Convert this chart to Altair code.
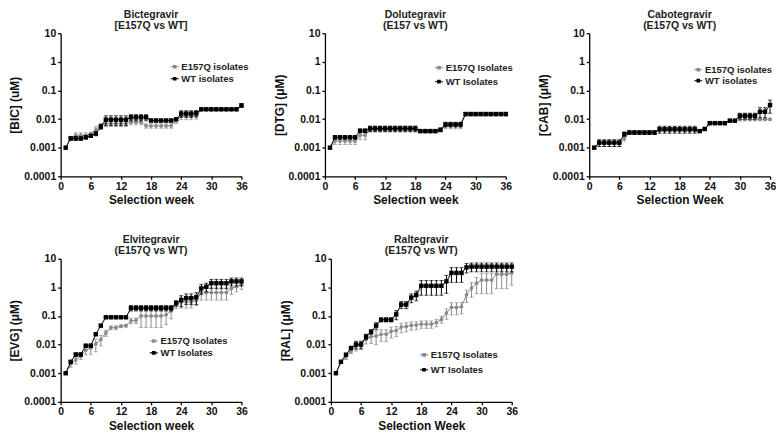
import altair as alt
import pandas as pd

weeks = list(range(1, 37))

# ---- Bictegravir ----
bic_e157q = [0.001, 0.0022, 0.0027, 0.0027, 0.0027, 0.003, 0.0042, 0.006, 0.007, 0.007, 0.007, 0.007, 0.007,
             0.0078, 0.0078, 0.0078, 0.0058, 0.0058, 0.0058, 0.0058, 0.0058, 0.0058, 0.009, 0.0125, 0.0125,
             0.0125, 0.013, 0.021, 0.021, 0.021, 0.021, 0.021, 0.021, 0.021, 0.021, 0.029]
bic_e157q_err = [0, 0.0003, 0.0006, 0.0006, 0.0006, 0.0005, 0.0012, 0.001, 0.0015, 0.0015, 0.0015, 0.0015, 0.0015,
                 0.0015, 0.0015, 0.0015, 0.001, 0.001, 0.001, 0.001, 0.001, 0.001, 0.002, 0.003, 0.003,
                 0.003, 0.003, 0.001, 0.001, 0.001, 0.001, 0.001, 0.001, 0.001, 0.001, 0.003]
bic_wt = [0.001, 0.0021, 0.0021, 0.0021, 0.0023, 0.0026, 0.0031, 0.0054, 0.0095, 0.0095, 0.0095, 0.0095, 0.0095,
          0.0115, 0.0115, 0.0115, 0.0115, 0.0089, 0.0089, 0.0089, 0.0089, 0.0089, 0.0098, 0.0155, 0.0155,
          0.0155, 0.016, 0.022, 0.022, 0.022, 0.022, 0.022, 0.022, 0.022, 0.022, 0.03]
bic_wt_err = [0, 0.0003, 0.0003, 0.0003, 0.0003, 0.0003, 0.0005, 0.001, 0.0035, 0.0035, 0.0035, 0.0035, 0.0035,
              0.0028, 0.0028, 0.0028, 0.0028, 0.001, 0.001, 0.001, 0.001, 0.001, 0.001, 0.004, 0.004,
              0.004, 0.004, 0.002, 0.002, 0.002, 0.002, 0.002, 0.002, 0.002, 0.002, 0.004]

# ---- Dolutegravir ----
dtg_e157q = [0.001, 0.0017, 0.0017, 0.0017, 0.0017, 0.0017, 0.0027, 0.0027, 0.0043, 0.0043, 0.0043, 0.0043,
             0.0043, 0.0043, 0.0043, 0.0043, 0.0043, 0.0043, 0.0037, 0.0037, 0.0037, 0.0037, 0.0043, 0.0058,
             0.0058, 0.0058, 0.0058, 0.015, 0.015, 0.015, 0.015, 0.015, 0.015, 0.015, 0.015, 0.015]
dtg_e157q_err = [0, 0.0004, 0.0004, 0.0004, 0.0004, 0.0004, 0.0008, 0.0008, 0.0008, 0.0008, 0.0008, 0.0008,
                 0.0008, 0.0008, 0.0008, 0.0008, 0.0008, 0.0008, 0.0004, 0.0004, 0.0004, 0.0004, 0.0008, 0.0012,
                 0.0012, 0.0012, 0.0012, 0.0015, 0.0015, 0.0015, 0.0015, 0.0015, 0.0015, 0.0015, 0.0015, 0.0015]
dtg_wt = [0.001, 0.0023, 0.0023, 0.0023, 0.0023, 0.0023, 0.0039, 0.0039, 0.0047, 0.0047, 0.0047, 0.0047,
          0.0047, 0.0047, 0.0047, 0.0047, 0.0047, 0.0047, 0.0038, 0.0038, 0.0038, 0.0038, 0.0042, 0.0065,
          0.0065, 0.0065, 0.0065, 0.015, 0.015, 0.015, 0.015, 0.015, 0.015, 0.015, 0.015, 0.015]
dtg_wt_err = [0, 0.0003, 0.0003, 0.0003, 0.0003, 0.0003, 0.0006, 0.0006, 0.001, 0.001, 0.001, 0.001,
              0.001, 0.001, 0.001, 0.001, 0.001, 0.001, 0.0004, 0.0004, 0.0004, 0.0004, 0.0005, 0.0012,
              0.0012, 0.0012, 0.0012, 0.002, 0.002, 0.002, 0.002, 0.002, 0.002, 0.002, 0.002, 0.002]

# ---- Cabotegravir ----
cab_e157q = [0.001, 0.0014, 0.0014, 0.0014, 0.0014, 0.0014, 0.0021, 0.0033, 0.0033, 0.0033, 0.0033, 0.0033,
             0.0033, 0.0042, 0.0042, 0.0042, 0.0042, 0.0042, 0.0042, 0.0042, 0.0042, 0.0038, 0.0044, 0.007,
             0.007, 0.007, 0.007, 0.0085, 0.0085, 0.0097, 0.0097, 0.0097, 0.0097, 0.0098, 0.0098, 0.0098]
cab_e157q_err = [0, 0.0003, 0.0003, 0.0003, 0.0003, 0.0003, 0.0004, 0.0004, 0.0004, 0.0004, 0.0004, 0.0004,
                 0.0004, 0.0006, 0.0006, 0.0006, 0.0006, 0.0006, 0.0006, 0.0006, 0.0006, 0.0004, 0.0004, 0.0006,
                 0.0006, 0.0006, 0.0006, 0.0008, 0.0008, 0.001, 0.001, 0.001, 0.001, 0.001, 0.001, 0.001]
cab_wt = [0.001, 0.0015, 0.0015, 0.0015, 0.0015, 0.0015, 0.003, 0.0034, 0.0034, 0.0034, 0.0034, 0.0034,
          0.0034, 0.0044, 0.0044, 0.0044, 0.0044, 0.0044, 0.0044, 0.0044, 0.0044, 0.0038, 0.0045, 0.0072,
          0.0072, 0.0072, 0.0072, 0.0088, 0.0088, 0.013, 0.013, 0.013, 0.013, 0.018, 0.018, 0.031]
cab_wt_err = [0, 0.0004, 0.0004, 0.0004, 0.0004, 0.0004, 0.0005, 0.0005, 0.0005, 0.0005, 0.0005, 0.0005,
              0.0005, 0.0012, 0.0012, 0.0012, 0.0012, 0.0012, 0.0012, 0.0012, 0.0012, 0.0004, 0.0004, 0.0008,
              0.0008, 0.0008, 0.0008, 0.001, 0.001, 0.003, 0.003, 0.003, 0.003, 0.007, 0.007, 0.015]

# ---- Elvitegravir ----
evg_e157q = [0.001, 0.0021, 0.0029, 0.004, 0.0064, 0.0076, 0.0106, 0.015, 0.0255, 0.039, 0.039, 0.044,
             0.046, 0.068, 0.07, 0.1, 0.1, 0.1, 0.1, 0.1, 0.11, 0.15, 0.26, 0.31,
             0.31, 0.31, 0.35, 0.66, 0.66, 0.66, 0.66, 0.66, 0.66, 0.92, 1.05, 1.25]
evg_e157q_err = [0, 0.0005, 0.0008, 0.001, 0.002, 0.003, 0.005, 0.006, 0.006, 0.006, 0.006, 0.005,
                 0.005, 0.015, 0.015, 0.06, 0.06, 0.06, 0.06, 0.06, 0.06, 0.07, 0.08, 0.12,
                 0.12, 0.12, 0.12, 0.3, 0.3, 0.3, 0.3, 0.3, 0.3, 0.35, 0.35, 0.4]
evg_wt = [0.001, 0.0025, 0.0045, 0.0045, 0.0091, 0.0091, 0.023, 0.046, 0.09, 0.09, 0.09, 0.09,
          0.09, 0.19, 0.19, 0.19, 0.19, 0.19, 0.19, 0.19, 0.19, 0.19, 0.28, 0.36,
          0.42, 0.42, 0.45, 0.92, 1.05, 1.4, 1.4, 1.4, 1.4, 1.62, 1.62, 1.62]
evg_wt_err = [0, 0.0003, 0.0006, 0.0006, 0.0012, 0.0012, 0.002, 0.004, 0.008, 0.008, 0.008, 0.008,
              0.008, 0.04, 0.04, 0.04, 0.04, 0.04, 0.04, 0.04, 0.04, 0.04, 0.06, 0.15,
              0.17, 0.17, 0.2, 0.35, 0.35, 0.5, 0.5, 0.5, 0.5, 0.5, 0.5, 0.5]

# ---- Raltegravir ----
ral_e157q = [0.001, 0.0025, 0.0037, 0.0059, 0.009, 0.01, 0.0155, 0.019, 0.02, 0.023, 0.023, 0.029,
             0.031, 0.041, 0.043, 0.047, 0.048, 0.052, 0.052, 0.052, 0.059, 0.076, 0.127, 0.2,
             0.2, 0.21, 0.55, 0.95, 1.4, 1.8, 1.8, 1.8, 2.9, 2.9, 2.9, 3.2]
ral_e157q_err = [0, 0.0003, 0.0007, 0.001, 0.003, 0.003, 0.005, 0.008, 0.01, 0.01, 0.01, 0.012,
                 0.012, 0.015, 0.015, 0.015, 0.015, 0.015, 0.015, 0.015, 0.017, 0.02, 0.05, 0.09,
                 0.09, 0.09, 0.25, 0.5, 0.8, 1.2, 1.2, 1.2, 2.0, 2.0, 2.0, 2.0]
ral_wt = [0.001, 0.0025, 0.0044, 0.0076, 0.01, 0.01, 0.019, 0.028, 0.046, 0.074, 0.074, 0.074,
          0.114, 0.25, 0.25, 0.44, 0.54, 1.13, 1.13, 1.13, 1.13, 1.13, 1.62, 3.2,
          3.2, 3.2, 5.0, 5.3, 5.3, 5.3, 5.3, 5.3, 5.3, 5.3, 5.3, 5.3]
ral_wt_err = [0, 0.0003, 0.0006, 0.001, 0.003, 0.003, 0.004, 0.005, 0.012, 0.012, 0.012, 0.012,
              0.04, 0.07, 0.07, 0.15, 0.2, 0.6, 0.6, 0.6, 0.6, 0.6, 1.0, 1.7,
              1.7, 1.7, 1.8, 1.8, 1.8, 1.8, 1.8, 1.8, 1.8, 1.8, 1.8, 1.8]

x_ticks = [0, 6, 12, 18, 24, 30, 36]
y_ticks = [0.0001, 0.001, 0.01, 0.1, 1, 10]

FONT = "Liberation Sans"
GREY = "#8a8a8a"
BLACK = "#000000"
W = 182
H = 144
LEGEND_SYMBOL = "M-1,-0.13H1V0.13H-1Z M-0.45,-0.45H0.45V0.45H-0.45Z"


def panel(title, ytitle, xtitle, e_lab, w_lab, e_vals, e_err, w_vals, w_err, lx, ly, row_pad):
    rows = []
    for lab, vals, errs in ((e_lab, e_vals, e_err), (w_lab, w_vals, w_err)):
        for wk, v, e in zip(weeks, vals, errs):
            rows.append({"week": wk, "value": v, "lo": v - e, "hi": v + e, "series": lab})
    df = pd.DataFrame(rows)
    cscale = alt.Scale(domain=[e_lab, w_lab], range=[GREY, BLACK])
    leg = alt.Legend(orient="none", legendX=lx, legendY=ly, title=None,
                     symbolType=LEGEND_SYMBOL, symbolSize=64, symbolStrokeWidth=0,
                     labelFont=FONT, labelFontWeight="bold", labelFontSize=9.5,
                     labelColor="#222222", labelOffset=2, rowPadding=row_pad)
    color = alt.Color("series:N", scale=cscale, legend=leg)
    xenc = alt.X("week:Q", scale=alt.Scale(domain=[0, 36], nice=False),
                 axis=alt.Axis(values=x_ticks, title=xtitle))
    yscale = alt.Scale(type="log", domain=[0.0001, 10], nice=False)
    yaxis = alt.Axis(values=y_ticks, format="~g", title=ytitle)
    yval = alt.Y("value:Q", scale=yscale, axis=yaxis)

    layers = []
    for lab, shape, size in ((e_lab, "circle", 14), (w_lab, "square", 20)):
        base = alt.Chart(df).transform_filter(alt.datum.series == lab)
        err = base.transform_filter("datum.hi > datum.lo").mark_errorbar(
            ticks=True, size=4, thickness=1
        ).encode(
            x=xenc,
            y=alt.Y("lo:Q", scale=yscale, axis=yaxis),
            y2="hi:Q",
            color=color,
        )
        line = base.mark_line(strokeWidth=1).encode(x=xenc, y=yval, color=color)
        if lab == e_lab:
            pts = base.mark_point(filled=True, size=size, opacity=1).encode(x=xenc, y=yval, color=color)
            layers += [pts, err, line]
        else:
            pts = base.mark_point(filled=True, size=size, opacity=1, shape=shape).encode(
                x=xenc, y=yval, color=color)
            layers += [err, line, pts]
    return alt.layer(*layers).properties(
        width=W, height=H,
        title=alt.TitleParams(text=title, font=FONT, fontSize=10.5, fontWeight="bold",
                              anchor="middle", frame="group", lineHeight=11, offset=-3,
                              color="#222222"),
    )


p1 = panel(["Bictegravir", "[E157Q vs WT]"], "[BIC] (uM)", "Selection week",
           "E157Q isolates", "WT isolates", bic_e157q, bic_e157q_err, bic_wt, bic_wt_err, 110, 29, 1)
p2 = panel(["Dolutegravir", "(E157 vs WT)"], "[DTG] (μM)", "Selection week",
           "E157Q Isolates", "WT Isolates", dtg_e157q, dtg_e157q_err, dtg_wt, dtg_wt_err, 110, 30, 3)
p3 = panel(["Cabotegravir", "(E157Q vs WT)"], "[CAB] (μM)", "Selection Week",
           "E157Q isolates", "WT isolates", cab_e157q, cab_e157q_err, cab_wt, cab_wt_err, 105, 32, 0)
p4 = panel(["Elvitegravir", "(E157Q vs WT)"], "[EVG] (μM)", "Selection week",
           "E157Q Isolates", "WT Isolates", evg_e157q, evg_e157q_err, evg_wt, evg_wt_err, 89, 78, 1)
p5 = panel(["Raltegravir", "(E157Q vs WT)"], "[RAL] (μM)", "Selection Week",
           "E157Q Isolates", "WT Isolates", ral_e157q, ral_e157q_err, ral_wt, ral_wt_err, 89, 92, 4)

top = alt.hconcat(p1, p2, p3, spacing=23).resolve_scale(color="independent").resolve_legend(color="independent")
bottom = alt.hconcat(p4, p5, spacing=31).resolve_scale(color="independent").resolve_legend(color="independent")

chart = alt.vconcat(top, bottom, spacing=29).resolve_scale(
    color="independent"
).resolve_legend(color="independent").properties(
    padding={"left": 0, "top": 0, "right": 0, "bottom": 0}
).configure_view(
    stroke=None
).configure_axis(
    grid=False,
    domainColor=BLACK,
    domainWidth=1.3,
    tickColor=BLACK,
    tickWidth=1.3,
    tickSize=3,
    labelFont=FONT,
    labelFontWeight="bold",
    labelFontSize=10.5,
    labelColor="#111111",
    labelPadding=2,
    titleFont=FONT,
    titleFontWeight="bold",
    titleFontSize=12,
    titleColor="#111111",
).configure_axisX(
    titlePadding=3,
    labelFlush=False,
).configure_axisY(
    titlePadding=2,
)

chart.save("out.html", embed_options={"renderer": "svg", "actions": False})
